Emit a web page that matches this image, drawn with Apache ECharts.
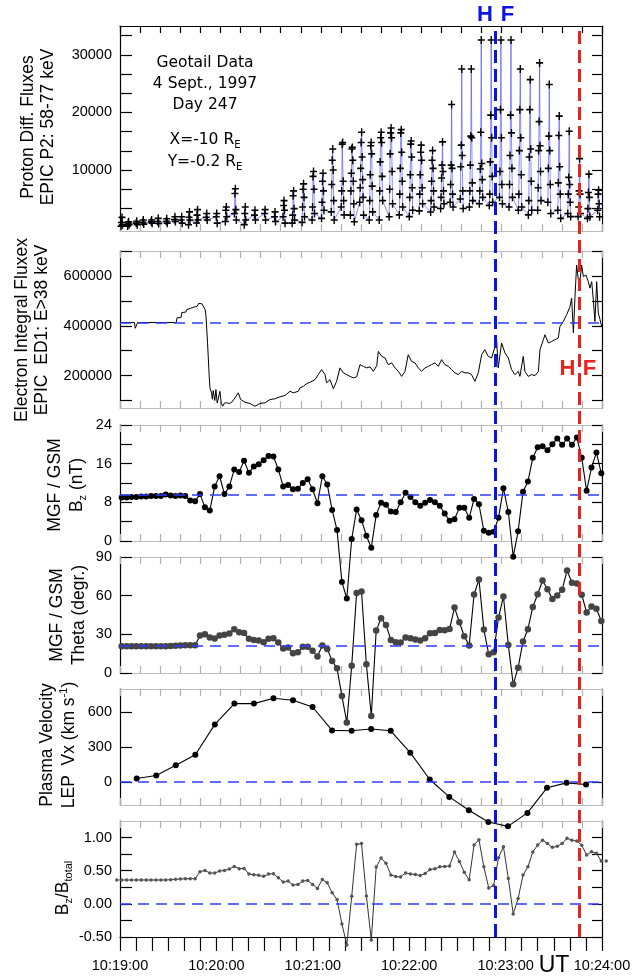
<!DOCTYPE html>
<html><head><meta charset="utf-8">
<script src="https://cdn.jsdelivr.net/npm/echarts@6/dist/echarts.min.js"></script>
<style>html,body{margin:0;padding:0;background:#fff}#c{width:644px;height:978px}</style>
</head><body><div id="c"></div>
<script>
// ---------- DATA (time in seconds after 10:19:00 UT) ----------
const xTickLabels = ['10:19:00','10:20:00','10:21:00','10:22:00','10:23:00','10:24:00'];
const xLabelTimes = [0,60,120,180,240,300];
const tBlueLine = 233.4;   // blue "H F" marker time
const tRedLine = 285.7;    // red "H F" marker time

// Proton EPIC P2 58-77 keV : sector values per spin column
const protonColT = [1.1,5.2,10.4,14.5,19.7,23.8,29.1,34.2,38.4,43.1,48.1,54.0,60.2,66.0,71.8,77.8,84.0,90.3,96.5,102.1,107.9,114.1,120.3,126.2,132.4,138.6,144.6,150.4,156.2,162.4,168.6,174.9,181.1,187.3,194.4,200.6,206.4,212.7,218.5,224.7,230.9,237.1,243.2,249.0,255.2,261.0,267.2,273.4,279.6,285.9,291.7,297.9];
const protonCols = [
 [1760,870,480,250],[1000,760,480,250],[1100,760,480],[1320,900,600],[1320,1000,760],
 [1600,1040,700],[1540,1100,760],[1880,1400,1040],[1880,1320,760],[2720,1800,1320,480],
 [3110,2160,1320,800],[2440,1800,1320],[2440,1880,760],[3560,3000,1880,1040],[6750,5910,3110,2440,1320],
 [3560,2440,1320,480],[3000,2160,1320],[3110,2440,1320],[2720,1880,1040],[4680,3840,3000,1880,760],
 [6360,5520,3280,2160,1300,760],[7590,6640,5240,3560,1880,900],[9720,8880,6640,3560,2440,1300],[9440,8040,6360,4400,3000,1600],
 [13640,11680,10000,7480,4680,2720,1300],[14760,14480,8040,6360,4680,3560,2200],[13920,13640,11680,9440,8040,6360,4120,2160,1000],
 [16550,14760,12240,10280,8320,6920,5240,4400,2160],[14760,14200,12800,9160,7200,4680,2720,1300],
 [16550,15600,14760,11400,8880,6360,4680,1320],[17280,16440,15600,12800,9720,6640,4120,1880],
 [17000,16440,13080,10280,8040,5800,3560,2200],[15040,14480,12240,9160,6920,5240,3000,1900],
 [14310,13080,11680,9160,6920,5800,4120,2900],[13360,11680,10280,8040,6360,4680,3560,2700],[14870,10840,9720,8600,6360,5240,4120,3300],
 [21370,10840,10280,7480,5800,4400,3560],[27520,14310,12520,10560,6360,4960,3300],[27520,15880,15600,10840,7760,6360,4680,3560],
 [32560,16550,11120,10160,8320,6360,5240,4120],[32560,19520,15600,11400,8880,5800,4400,3850],[32560,20470,15600,9720,7480,5240,4120],
 [32560,19520,16440,12520,10280,7480,5240,3560],[27520,20470,15600,13360,9160,5800,3560,3000],[25680,20470,13640,12240,8040,4680,3000,2200],
 [28590,18400,14200,13360,9720,6920,4680,3000],[24840,15880,13360,10280,7480,4400,2440],[19350,15990,10560,7760,5800,3000,1600],
 [16720,8710,7480,5800,4400,2440,1900],[11960,6360,5800,3560,2440,1900],[9270,6080,5240,3280,1880,1600],[6470,5800,4120,3000,1880]
];

// Electron EPIC ED1 E>38 keV
const elecT = [0,9,9.5,10.5,11,35,35.5,38,38.5,41,41.5,44,45,46,48,49,51,52,53,53.5,54.5,55.5,56,57,57.5,58,58.5,59,59.7,60.5,61.2,62.2,63,63.9,65,66.4,68,69.5,71.6,73.6,75.1,77.8,80.9,84,87.1,90.2,93.4,96.5,99.6,102.7,105.8,107.9,111,112,114.1,116.2,118.2,121.4,123.4,125.5,127.6,128.6,130.7,132.8,134.8,136.9,139,141.1,143.1,145.2,147.3,149.4,151.5,153.5,155.6,157.7,159.8,160.8,162.9,164.9,167,169.1,171.2,173.2,175.3,177.4,179.4,181.5,183.6,185.7,187.7,189.8,191.9,193.9,196,198.1,200.2,202.2,204.3,206.4,208.5,210.5,212.6,214.7,216.7,218.8,220.9,223,225.1,227.1,229.2,231.3,233.4,234.4,235.4,237.5,239.6,241.7,243.7,245.8,247.9,248.9,251,252,254.1,256.2,258.3,260.4,261.4,263.5,264.5,266.6,268.7,270.7,272.8,273.8,275.9,278,280.1,281.1,282.2,283.2,284.2,285.9,287.3,288.4,290,291.5,292.5,293.6,294.6,295.6,296.7,297.7,298.8,299.8];
const elecV = [413000,413000,390000,395000,413000,413000,432000,433000,453000,455000,465000,470000,462000,475000,478000,490000,488000,492000,465000,440000,330000,200000,150000,130000,105000,140000,120000,100000,144000,90000,84000,137000,90000,77000,90000,91000,88000,93000,111000,131000,104000,93000,88000,77000,88000,91000,104000,107000,115000,120000,137000,131000,137000,151000,157000,168000,173000,184000,204000,224000,204000,171000,184000,147000,177000,231000,211000,204000,197000,191000,195000,244000,237000,231000,235000,217000,240000,297000,277000,271000,244000,251000,231000,217000,197000,217000,284000,257000,251000,231000,217000,231000,237000,244000,251000,237000,264000,244000,237000,224000,211000,204000,217000,211000,211000,204000,177000,211000,284000,304000,277000,271000,317000,344000,231000,331000,291000,271000,224000,204000,217000,197000,277000,217000,197000,204000,200000,217000,304000,344000,364000,331000,337000,344000,351000,397000,417000,444000,477000,511000,371000,517000,644000,551000,644000,597000,604000,577000,551000,577000,504000,417000,577000,451000,424000,397000];
const elecRef = 413000;

// MGF 3-s averages
const mgfStart = 1.06, mgfStep = 3.046;
const bz = [9.0,9.0,9.1,9.1,9.2,9.2,9.3,9.3,9.3,9.6,9.4,9.3,9.4,9.3,
 8.4,8.2,9.7,7.0,6.3,11.3,13.4,9.7,11.3,14.8,14.3,16.6,14.1,15.4,15.9,16.7,17.6,17.5,14.8,11.3,11.6,10.7,10.8,12.0,12.8,10.7,7.8,13.4,11.7,
 6.4,2.3,-8.5,-11.9,0.4,6.5,4.3,1.1,-1.4,5.4,7.9,7.5,6.1,6.0,8.0,10.0,9.1,8.0,7.3,7.9,8.5,8.0,7.3,5.7,4.2,4.5,6.9,6.9,4.8,8.7,7.6,2.1,1.7,1.9,4.8,10.9,6.0,-3.25,2.0,10.2,12.3,17.2,19.4,19.6,18.8,20.0,21.2,19.9,21.2,19.9,21.4,17.2,10.4,15.2,18.3,14.0];
const bzRef = 9.5;
const theta = [20.8,20.8,20.8,20.8,20.8,20.8,20.8,20.8,20.8,20.8,21.0,21.2,21.4,21.5,21.6,21.6,
 29.0,30.0,27.5,26.7,29.0,29.6,30.6,34.0,31.6,31.1,26.5,25.7,25.2,23.9,26.5,27.0,23.6,19.0,19.7,15.3,16.1,20.3,20.3,17.2,12.8,21.3,18.7,
 9.3,3.6,-17.9,-38.4,5.7,62.0,63.3,6.7,-33.4,32.9,42.5,37.3,25.7,23.9,23.6,27.5,27.0,25.9,25.2,27.0,30.9,31.1,33.4,33.2,34.2,50.8,39.4,28.5,21.3,60.9,72.6,33.7,14.5,16.1,43.0,59.4,21.8,-8.8,4.1,24.4,34.0,51.3,61.1,71.8,65.0,57.5,60.1,64.5,79.6,70.0,69.5,60.7,47.0,51.6,49.8,40.3];
const thetaRef = 21.2;
const bzbt = [0.36,0.36,0.36,0.36,0.36,0.36,0.36,0.36,0.36,0.36,0.36,0.365,0.37,0.375,0.378,0.38,0.38,
 0.485,0.505,0.465,0.465,0.495,0.505,0.525,0.565,0.53,0.535,0.45,0.44,0.43,0.415,0.45,0.455,0.394,0.328,0.343,0.283,0.293,0.343,0.353,0.293,0.232,0.369,0.318,
 0.167,0.065,-0.303,-0.62,0.115,0.898,0.909,0.12,-0.545,0.555,0.69,0.614,0.437,0.412,0.407,0.467,0.452,0.442,0.427,0.457,0.518,0.528,0.558,0.563,0.573,0.782,0.64,0.477,0.363,0.888,0.969,0.558,0.24,0.277,0.696,0.863,0.383,-0.152,0.081,0.434,0.558,0.782,0.888,0.959,0.909,0.853,0.868,0.909,0.99,0.959,0.949,0.883,0.737,0.787,0.762,0.646,0.646];

// LEP plasma velocity Vx (km/s), ~12-s moments
const vxStart = 10.4, vxStep = 12.16;
const vx = [28,54,143,233,495,674,674,720,703,645,443,440,455,440,251,20,-130,-245,-346,-384,-268,-52,-9,-23];

// ---------- BUILD ----------
const FONT = 'Liberation Sans, Arial, sans-serif';
const panels = [
  {top:26,height:205},{top:251,height:157},{top:425,height:116},
  {top:557,height:116},{top:689,height:116},{top:821,height:116}
];
const grid = panels.map(p=>({left:120,width:482,top:p.top,height:p.height}));
grid.push({left:120,width:482,top:26,height:911}); // overlay for vertical markers

const xAxis = [];
panels.forEach((p,i)=>{
  const last = i===5;
  xAxis.push(last ? {
    gridIndex:i, type:'value', min:0, max:300, interval:10, position:'bottom',
    axisLine:{show:true,onZero:false,lineStyle:{color:'#000',width:1.2}},
    axisTick:{show:true,inside:false,length:14,lineStyle:{color:'#000',width:1.2}},
    axisLabel:{show:true,customValues:xLabelTimes,margin:21,fontFamily:FONT,fontSize:14.5,color:'#000',
      formatter:v=>xTickLabels[xLabelTimes.indexOf(Math.round(v))]||''},
    splitLine:{show:false}
  } : {
    gridIndex:i, type:'value', min:0, max:300, interval:12.5, position:'bottom',
    axisLine:{show:true,onZero:false,lineStyle:{color:'#bdbdbd',width:1.2}},
    axisTick:{show:true,inside:true,length:7,lineStyle:{color:'#b0b0b0',width:1.2}},
    axisLabel:{show:false}, splitLine:{show:false}
  });
  const topCol = i===0 ? '#000' : '#bdbdbd';
  xAxis.push({
    gridIndex:i, type:'value', min:0, max:300, interval:12.5, position:'top',
    axisLine:{show:true,onZero:false,lineStyle:{color:topCol,width:1.2}},
    axisTick:{show:true,inside:true,length:7,lineStyle:{color:i===0?'#000':'#b0b0b0',width:1.2}},
    axisLabel:{show:false}, splitLine:{show:false}
  });
});
xAxis.push({gridIndex:6,type:'value',min:0,max:300,show:false});

const third = 10000/3;
const yDefs = [
  {min:-600,max:35000,ticks:[1,2,3,4,5,6,7,8,9,10].map(k=>k*third),labels:[10000,20000,30000],fmt:v=>String(Math.round(v))},
  {min:70000,max:700000,ticks:[100000,200000,300000,400000,500000,600000,700000],labels:[200000,400000,600000],fmt:v=>String(Math.round(v))},
  {min:0,max:24,ticks:[0,4,8,12,16,20,24],labels:[0,8,16,24],fmt:v=>String(Math.round(v))},
  {min:0,max:90,ticks:[0,30,60,90],labels:[0,30,60,90],fmt:v=>String(Math.round(v))},
  {min:-200,max:800,ticks:[0,300,600],labels:[0,300,600],fmt:v=>String(Math.round(v))},
  {min:-0.5,max:1.25,ticks:[-0.5,-0.25,0,0.25,0.5,0.75,1.0],labels:[-0.5,0,0.5,1.0],fmt:v=>v.toFixed(2)}
];
const yAxis = [];
yDefs.forEach((d,i)=>{
  ['left','right'].forEach(pos=>{
    yAxis.push({
      gridIndex:i, type:'value', position:pos, min:d.min, max:d.max,
      axisLine:{show:true,onZero:false,lineStyle:{color:'#000',width:1.2}},
      axisTick:{show:true,inside:true,length:pos==='left'?12:10,customValues:d.ticks,lineStyle:{color:'#000',width:1.2}},
      axisLabel:{show:pos==='left',customValues:d.labels,formatter:d.fmt,margin:8,fontFamily:FONT,fontSize:14.5,color:'#000'},
      splitLine:{show:false}
    });
  });
});
yAxis.push({gridIndex:6,type:'value',min:0,max:1,show:false});

function refLine(v){
  return {silent:true,symbol:['none','none'],label:{show:false},
    lineStyle:{color:'#2f3cff',width:1.5,type:[11,7]},data:[{yAxis:v}]};
}

// proton sequence: sectors within a spin rise to the peak then fall
const protonData = [];
protonCols.forEach((col,ci)=>{
  const d = col.slice().sort((a,b)=>b-a);
  const left=[], right=[];
  d.forEach((v,i)=>{ if(i===0) return; (i%2 ? left : right).push(v); });
  const seq = left.reverse().concat([d[0]], right);
  const n = seq.length;
  seq.forEach((v,k)=>protonData.push([protonColT[ci] + (k-(n-1)/2)*0.3, v]));
});
const plusPath = 'path://M4,0H6V4H10V6H6V10H4V6H0V4H4Z';

const mgfT = i => mgfStart + i*mgfStep;
const series = [
  {type:'line', xAxisIndex:0, yAxisIndex:0, data:protonData, symbol:plusPath, symbolSize:[7,8],
   showAllSymbol:true, itemStyle:{color:'#000'}, lineStyle:{color:'#4848ff',width:0.7,opacity:0.9}, z:3},
  {type:'line', xAxisIndex:2, yAxisIndex:2, data:elecT.map((t,i)=>[t,elecV[i]]), showSymbol:false,
   lineStyle:{color:'#000',width:1}, markLine:refLine(elecRef)},
  {type:'line', xAxisIndex:4, yAxisIndex:4, data:bz.map((v,i)=>[mgfT(i),v]), clip:false,
   symbol:'circle', symbolSize:6, itemStyle:{color:'#000'}, lineStyle:{color:'#000',width:1.1}, markLine:refLine(bzRef), z:4},
  {type:'line', xAxisIndex:6, yAxisIndex:6, data:theta.map((v,i)=>[mgfT(i),v]), clip:false,
   symbol:'circle', symbolSize:6.5, itemStyle:{color:'#444'}, lineStyle:{color:'#000',width:1.1}, markLine:refLine(thetaRef), z:4},
  {type:'line', xAxisIndex:8, yAxisIndex:8, data:vx.map((v,i)=>[vxStart+i*vxStep,v]), clip:false,
   symbol:'circle', symbolSize:6, itemStyle:{color:'#000'}, lineStyle:{color:'#000',width:1.1}, markLine:refLine(0), z:4},
  {type:'line', xAxisIndex:10, yAxisIndex:10, data:bzbt.map((v,i)=>[mgfStart-mgfStep+i*mgfStep,v]), clip:false,
   symbol:'circle', symbolSize:3.5, itemStyle:{color:'#555'}, lineStyle:{color:'#333',width:1}, markLine:refLine(0), z:4},
  {type:'line', xAxisIndex:12, yAxisIndex:12, data:[[0,-1]], showSymbol:false, lineStyle:{width:0}, z:10,
   markLine:{silent:true,symbol:['none','none'],label:{show:false},
     data:[{xAxis:tBlueLine,lineStyle:{color:'#0a14e6',width:3,type:[13,6]}},
           {xAxis:tRedLine,lineStyle:{color:'#e8221e',width:3,type:[13,6]}}]}}
];

function vText(x,y,text,lh,rich){
  return {type:'text',x:x,y:y,rotation:Math.PI/2,z:20,
    style:{text:text,rich:rich,fontFamily:FONT,fontSize:17.5,lineHeight:lh,fill:'#000',
      align:'center',verticalAlign:'middle',textAlign:'center',textVerticalAlign:'middle'}};
}
const R = {a:{fontFamily:FONT,fontSize:17.5,lineHeight:22},
           s:{fontFamily:FONT,fontSize:11,verticalAlign:'bottom',lineHeight:22},
           p:{fontFamily:FONT,fontSize:11,verticalAlign:'top',lineHeight:22}};
function hText(x,y,text,size,opts){
  return Object.assign({type:'text',x:x,y:y,z:20,
    style:Object.assign({text:text,fontFamily:FONT,fontSize:size,fill:'#000',
      align:'center',verticalAlign:'middle',textAlign:'center',textVerticalAlign:'middle'},opts||{})});
}
const AN = 'DejaVu Sans, Verdana, sans-serif';
const RA = {a:{fontFamily:AN,fontSize:15.5,lineHeight:20},e:{fontFamily:AN,fontSize:10,verticalAlign:'bottom',lineHeight:20}};
const graphic = [
  vText(38,127,'Proton Diff. Fluxes\nEPIC P2: 58-77 keV',20),
  vText(32,330,'Electron Integral Fluxex\nEPIC  ED1: E>38 keV',20),
  vText(66.5,485,'{a|MGF / GSM}\n{a|B}{s|z}{a| (nT)}',22,R),
  vText(68,615,'{a|MGF / GSM}\n{a|Theta (degr.)}',22,R),
  vText(58.5,745,'{a|Plasma Velocity}\n{a|LEP  Vx (km s}{p|-1}{a|)}',21,R),
  vText(63,888,'{a|B}{s|z}{a|/B}{s|total}',22,R),
  hText(205,63,'Geotail Data',15.5,{fontFamily:AN}),
  hText(205,84,'4 Sept., 1997',15.5,{fontFamily:AN}),
  hText(205,105,'Day 247',15.5,{fontFamily:AN}),
  hText(205,140,'{a|X=-10 R}{e|E}',15.5,{fontFamily:AN,rich:RA}),
  hText(205,162,'{a|Y=-0.2 R}{e|E}',15.5,{fontFamily:AN,rich:RA}),
  hText(485,15,'H',22,{fontWeight:'bold',fill:'#0a14e6'}),
  hText(507.5,15,'F',22,{fontWeight:'bold',fill:'#0a14e6'}),
  hText(567.5,369,'H',22,{fontWeight:'bold',fill:'#e8221e'}),
  hText(589.5,369,'F',22,{fontWeight:'bold',fill:'#e8221e'}),
  hText(554,966,'UT',23)
];

const chart = echarts.init(document.getElementById('c'),null,{renderer:'canvas'});
chart.setOption({animation:false,backgroundColor:'#fff',textStyle:{fontFamily:FONT},
  grid:grid,xAxis:xAxis,yAxis:yAxis,series:series,graphic:graphic});
</script></body></html>
